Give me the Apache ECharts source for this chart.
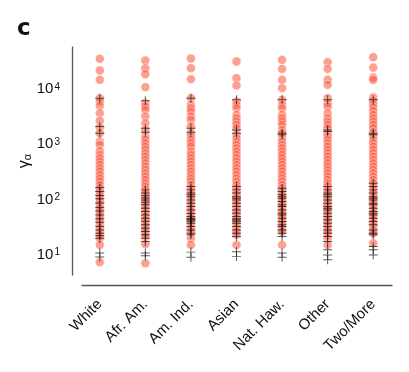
<!DOCTYPE html>
<html>
<head>
<meta charset="utf-8">
<script src="https://cdn.jsdelivr.net/npm/echarts@6/dist/echarts.min.js"></script>
<style>
  html, body { margin: 0; padding: 0; background: #fff; }
  #chart { width: 409px; height: 372px; }
</style>
</head>
<body>
<div id="chart"></div>
<script>
var categories = ['White', 'Afr. Am.', 'Am. Ind.', 'Asian', 'Nat. Haw.', 'Other', 'Two/More'];

// gamma_alpha values (circles)
var whiteVals = [32300, 19800, 13400, 6220, 5400, 4520, 3320, 2410, 1820, 1440, 1010, 880, 685, 580, 505, 440, 382, 330, 289, 250, 218, 190, 165, 144, 125, 109, 95, 82, 72, 62, 54, 47, 41, 36, 31, 27, 23.4, 20.4, 17.7, 13.4, 6.5];
var afrVals = [30100, 21800, 17000, 9860, 5050, 4400, 3820, 2890, 2180, 1650, 1250, 1090, 946, 820, 716, 620, 541, 470, 409, 356, 310, 269, 234, 204, 177, 154, 134, 117, 101, 88, 77, 67, 58, 50.5, 44, 38, 33, 29, 25, 22, 19, 13.8, 6.2];
var indVals = [32700, 21800, 13800, 6220, 4710, 4100, 3560, 2900, 2510, 1900, 1440, 1250, 1090, 950, 822, 667, 580, 505, 440, 382, 330, 289, 250, 218, 190, 165, 144, 125, 109, 94.6, 82, 71.6, 62, 54, 47, 41, 36, 31, 27, 23.4, 17.7, 13.4];
var asianVals = [28900, 14400, 10600, 5410, 4700, 4090, 3100, 2700, 2340, 2040, 1770, 1340, 1170, 1010, 880, 767, 667, 581, 505, 439, 382, 332, 289, 251, 218, 190, 165, 144, 125, 109, 94.6, 82, 71.6, 62, 54, 47, 41, 35.6, 31, 26.9, 23.4, 20.4, 13.4];
var hawVals = [31000, 21200, 13400, 9470, 5810, 4700, 4090, 3100, 2690, 2340, 2040, 1650, 1440, 1170, 1010, 882, 767, 667, 581, 505, 439, 382, 332, 289, 251, 218, 190, 165, 144, 125, 109, 94.6, 82, 71.6, 62, 54, 47, 40.9, 35.6, 31, 26.9, 23.4, 13.4];
var otherVals = [28100, 21200, 13400, 10900, 6220, 5050, 4390, 3320, 2690, 2340, 2040, 1770, 1440, 1250, 1090, 946, 822, 716, 622, 541, 471, 409, 356, 310, 269, 234, 204, 177, 154, 134, 117, 101, 88, 76.7, 66.7, 58, 50.5, 43.9, 38, 33.2, 28.9, 25, 21.8, 17.7, 13.4];
var twoVals = [34600, 22400, 14800, 13400, 6400, 5600, 4840, 4200, 3660, 3100, 2690, 2340, 2040, 1770, 1500, 1250, 1090, 946, 822, 716, 622, 541, 471, 409, 356, 310, 269, 234, 204, 177, 154, 134, 117, 101, 88, 76.7, 66.7, 58, 50.5, 43.9, 38.2, 33.2, 28.9, 25, 21.8, 14.4];

// values shown as black plus markers
var whitePlus = [6220, 1900, 1440, 148, 125, 106, 92, 77, 64, 55.6, 47, 40, 34.6, 28.9, 25, 21.8, 19.8, 17.7, 9.5, 8.1];
var afrPlus = [5600, 1770, 1500, 134, 117, 105, 95, 88, 80, 71.6, 62, 54, 47, 41, 36, 31, 27, 23.4, 20.4, 17.7, 15.4, 9.5, 8.5];
var indPlus = [6220, 1770, 1500, 154, 134, 117, 109, 101, 88, 76.7, 66.7, 58, 50, 44, 41, 39, 38, 36, 33, 28.9, 25, 21.8, 20.4, 9.9, 8.0];
var asianPlus = [5800, 1650, 1440, 154, 134, 117, 101, 94.6, 88, 76.7, 66.7, 58, 50.5, 43.9, 40, 38, 36, 33, 28.9, 25, 21.8, 19, 10.1, 8.2];
var hawPlus = [5810, 1440, 1340, 144, 125, 109, 101, 94.6, 82, 71.6, 66.7, 58, 50.5, 47, 40.9, 35.6, 31, 28.9, 25, 21.8, 19, 9.5, 8.0];
var otherPlus = [5810, 1650, 1540, 154, 134, 117, 109, 101, 88, 76.7, 66.7, 62, 58, 50.5, 43.9, 38.2, 33.2, 28.9, 25, 21.8, 19, 15.4, 10.9, 8.8, 7.2];
var twoPlus = [5810, 1440, 1340, 177, 154, 134, 117, 101, 94.6, 88, 76.7, 71.6, 62, 54, 50.5, 47, 40.9, 35.6, 31, 25, 21.8, 20.4, 12.5, 10.9, 8.8];

var circleGroups = [whiteVals, afrVals, indVals, asianVals, hawVals, otherVals, twoVals];
var plusGroups = [whitePlus, afrPlus, indPlus, asianPlus, hawPlus, otherPlus, twoPlus];

function toPoints(groups) {
    var out = [];
    groups.forEach(function (vals, i) {
        vals.forEach(function (v) { out.push([i, v]); });
    });
    return out;
}

var plusPath = 'path://M4.45,0H5.55V4.45H10V5.55H5.55V10H4.45V5.55H0V4.45H4.45Z';
var font = 'Liberation Sans, Arial, sans-serif';

var chart = echarts.init(document.getElementById('chart'));
chart.setOption({
    animation: false,
    backgroundColor: '#fff',
    title: {
        text: 'c',
        left: 12,
        top: 13,
        textStyle: { fontFamily: 'DejaVu Sans', fontWeight: 'bold', fontSize: 23, color: '#111' }
    },
    grid: [
        { left: 77, right: 13, top: 47, bottom: 97 },
        { left: 82, right: 17, top: 47, bottom: 87 }
    ],
    xAxis: [{
        type: 'category',
        gridIndex: 0,
        data: categories,
        offset: 10,
        axisLine: { show: false },
        axisTick: { show: false },
        axisLabel: {
            rotate: 45,
            margin: 17,
            fontSize: 15,
            color: '#111',
            fontFamily: font
        }
    }, {
        type: 'value',
        gridIndex: 1,
        axisLine: { show: true, lineStyle: { color: '#555', width: 1.3 } },
        axisTick: { show: false },
        axisLabel: { show: false },
        splitLine: { show: false }
    }],
    yAxis: [{
        type: 'log',
        gridIndex: 0,
        min: 3.8,
        max: 53000,
        offset: 5,
        name: 'γ{sub|α}',
        nameLocation: 'middle',
        nameRotate: 90,
        nameGap: 39,
        nameMoveOverlap: false,
        nameTextStyle: {
            fontSize: 16,
            color: '#111',
            fontFamily: font,
            rich: { sub: { fontSize: 11, verticalAlign: 'bottom', padding: [6, 0, 0, 0], fontFamily: font, color: '#111' } }
        },
        axisLine: { show: true, lineStyle: { color: '#555', width: 1.3 } },
        axisTick: { show: false },
        splitLine: { show: false },
        axisLabel: {
            margin: 12,
            padding: [5, 0, 0, 0],
            showMinLabel: false,
            showMaxLabel: false,
            fontSize: 15,
            color: '#111',
            fontFamily: font,
            formatter: function (v) {
                var e = Math.log10(v);
                if (Math.abs(e - Math.round(e)) > 1e-6) return '';
                return '10{s|' + Math.round(e) + '}';
            },
            rich: { s: { fontSize: 10, verticalAlign: 'top', padding: [0, 0, 2, 1], fontFamily: font, color: '#111' } }
        }
    }, {
        type: 'value',
        gridIndex: 1,
        show: false
    }],
    series: [{
        type: 'scatter',
        xAxisIndex: 0,
        yAxisIndex: 0,
        data: toPoints(circleGroups),
        symbol: 'circle',
        symbolSize: 9,
        itemStyle: { color: '#f95b44', borderColor: '#fff', borderWidth: 0.8, opacity: 0.58 }
    }, {
        type: 'scatter',
        xAxisIndex: 0,
        yAxisIndex: 0,
        data: toPoints(plusGroups),
        symbol: plusPath,
        symbolSize: 9,
        itemStyle: { color: 'rgba(15,15,15,0.85)' }
    }]
});
</script>
</body>
</html>
